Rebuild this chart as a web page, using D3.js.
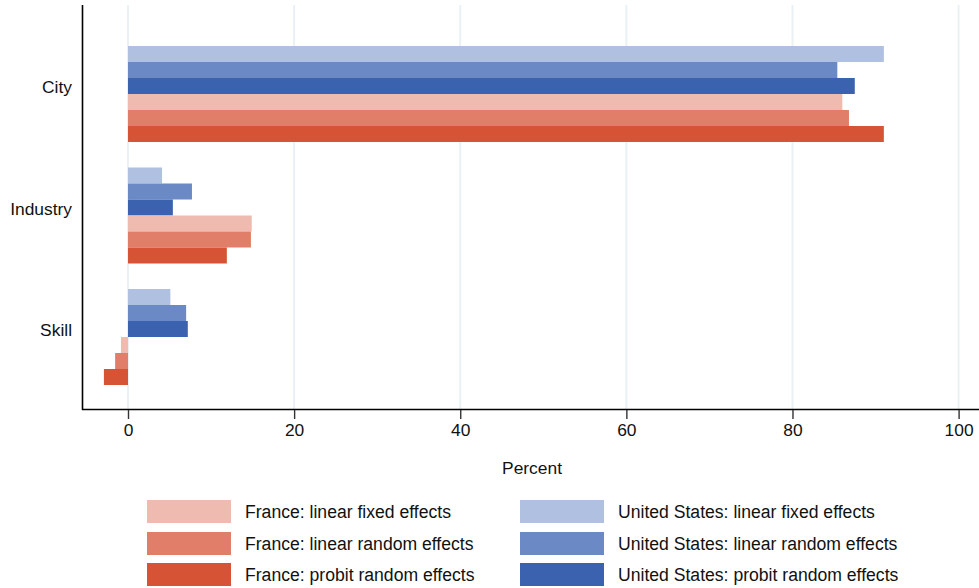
<!DOCTYPE html>
<html><head><meta charset="utf-8">
<script src="https://cdn.jsdelivr.net/npm/d3@7"></script>
<style>body{margin:0;background:#fff;} svg{display:block;font-family:"Liberation Sans",Arial,Helvetica,sans-serif;}</style>
</head><body><svg id="c" width="979" height="588"></svg>
<script>
const categories = ["City", "Industry", "Skill"];
const seriesNames = [
  "United States: linear fixed effects",
  "United States: linear random effects",
  "United States: probit random effects",
  "France: linear fixed effects",
  "France: linear random effects",
  "France: probit random effects"
];
const usLinearFE   = [91.0, 4.1, 5.1];
const usLinearRE   = [85.4, 7.7, 7.0];
const usProbitRE   = [87.5, 5.4, 7.2];
const frLinearFE   = [86.0, 14.9, -0.85];
const frLinearRE   = [86.8, 14.8, -1.55];
const frProbitRE   = [91.0, 11.9, -2.9];
const seriesValues = [usLinearFE, usLinearRE, usProbitRE, frLinearFE, frLinearRE, frProbitRE];
const colors = ["#b0c0e0", "#6b89c4", "#3a62ae", "#efbbb1", "#e17e69", "#d65336"];
const xTicks = [0, 20, 40, 60, 80, 100];
const legendOrder = [[3, 0], [4, 1], [5, 2]];
const FS = 17.4;
const LFS = 17.6;

const svg = d3.select("#c");
const x = d3.scaleLinear().domain([0, 100]).range([128, 958.6]);
const y = d3.scaleBand().domain(categories).range([46, 385]).paddingInner(0.21).paddingOuter(0);
const yi = d3.scaleBand().domain(d3.range(seriesNames.length)).range([0, y.bandwidth()]);

// gridlines
svg.append("g").selectAll("line").data(xTicks).join("line")
  .attr("x1", d => x(d)).attr("x2", d => x(d)).attr("y1", 5).attr("y2", 409)
  .attr("stroke", "#eaf1f4").attr("stroke-width", 2);

// bars
const groups = svg.append("g").selectAll("g").data(categories).join("g")
  .attr("transform", c => `translate(0,${y(c)})`);
groups.selectAll("rect").data((c, ci) => seriesValues.map((s, si) => ({v: s[ci], si})))
  .join("rect")
  .attr("x", d => x(Math.min(0, d.v)))
  .attr("width", d => Math.abs(x(d.v) - x(0)))
  .attr("y", d => yi(d.si))
  .attr("height", yi.bandwidth())
  .attr("fill", d => colors[d.si]);

// category labels
svg.append("g").selectAll("text").data(categories).join("text")
  .attr("x", 72).attr("y", c => y(c) + y.bandwidth() / 2 - 7)
  .attr("text-anchor", "end").attr("dominant-baseline", "central")
  .attr("font-size", FS).attr("fill", "#111").text(c => c);

// axes lines
svg.append("line").attr("x1", 82.5).attr("x2", 82.5).attr("y1", 5).attr("y2", 410)
  .attr("stroke", "#000").attr("stroke-width", 1.6);
svg.append("line").attr("x1", 82).attr("x2", 979).attr("y1", 409.5).attr("y2", 409.5)
  .attr("stroke", "#000").attr("stroke-width", 1.6);

// x axis
const xAxis = d3.axisBottom(x).tickValues(xTicks).tickSize(9).tickPadding(5);
const gx = svg.append("g").attr("transform", "translate(0,410)").call(xAxis);
gx.select(".domain").remove();
gx.selectAll(".tick line").attr("stroke", "#333").attr("stroke-width", 1.4);
gx.selectAll(".tick text").attr("font-size", FS).attr("fill", "#111")
  .attr("font-family", "'Liberation Sans',Arial,sans-serif");

svg.append("text").attr("x", 532).attr("y", 468).attr("text-anchor", "middle")
  .attr("dominant-baseline", "central").attr("font-size", FS).attr("fill", "#111").text("Percent");

// legend
const legendCols = [{sx: 147, tx: 245}, {sx: 520, tx: 618}];
const rowY = [500, 532, 563];
legendOrder.forEach((row, ri) => {
  row.forEach((si, ci) => {
    svg.append("rect").attr("x", legendCols[ci].sx).attr("y", rowY[ri])
      .attr("width", 84).attr("height", 23).attr("fill", colors[si]);
    svg.append("text").attr("x", legendCols[ci].tx).attr("y", rowY[ri] + 12)
      .attr("dominant-baseline", "central").attr("font-size", LFS).attr("fill", "#111")
      .text(seriesNames[si]);
  });
});
</script></body></html>
